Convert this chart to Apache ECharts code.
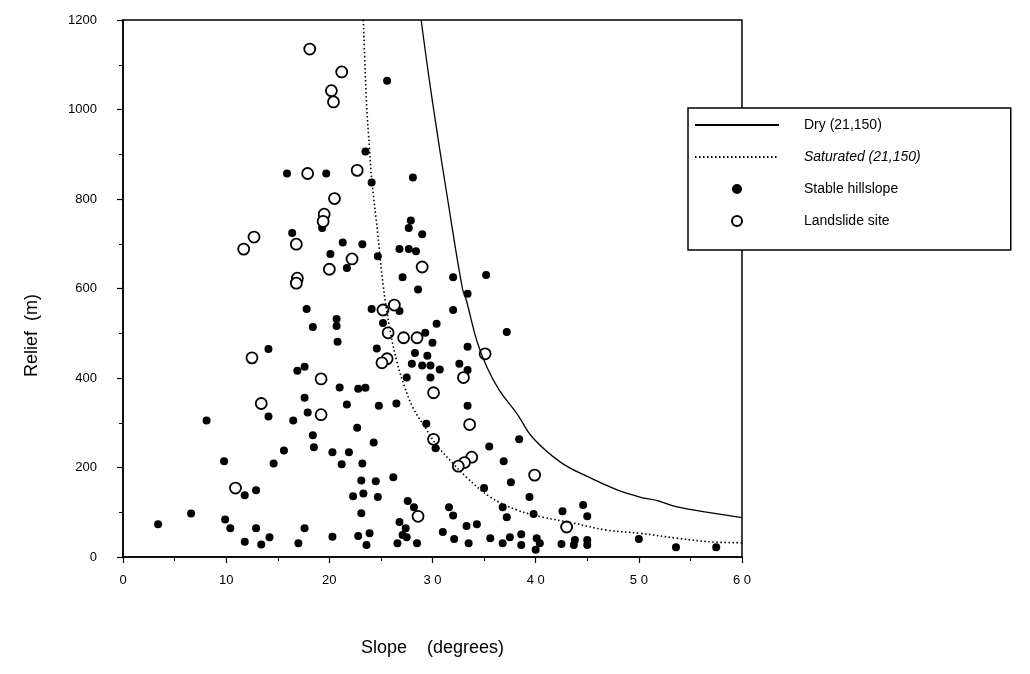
<!DOCTYPE html>
<html>
<head>
<meta charset="utf-8">
<title>Relief vs Slope</title>
<script src="https://cdn.jsdelivr.net/npm/echarts@6/dist/echarts.min.js"></script>
<style>
  html, body { margin: 0; padding: 0; background: #fff; }
  #chart { width: 1030px; height: 674px; }
</style>
</head>
<body>
<div id="chart"></div>
<script>
// x tick labels as printed (later ones are spaced out)
const xTickLabels = { 0: '0', 10: '10', 20: '20', 30: '3 0', 40: '4 0', 50: '5 0', 60: '6 0' };

// threshold curves [slope, relief]
const dryCurve = [
  [28.9, 1200], [30.0, 1017], [31.5, 795], [32.9, 600], [33.3, 572], [34.3, 483],
  [35.3, 423], [36.5, 372], [38.2, 320], [39.7, 267], [42.4, 212], [45.0, 180],
  [47.9, 150], [50.1, 134], [51.8, 126], [53.7, 112], [57.2, 98], [60, 88]
];
const saturatedCurve = [
  [23.3, 1200], [23.6, 1017], [23.9, 910], [24.1, 846], [24.7, 721], [25.2, 610],
  [25.9, 505], [26.6, 432], [27.3, 380], [28.1, 334], [29.3, 289], [30.4, 250],
  [32.0, 209], [33.3, 178], [35.6, 134], [38.2, 105], [40.7, 89], [43.6, 76],
  [46.9, 60], [50.1, 53], [53.7, 42], [57.6, 33], [60, 32]
];

// filled dots
const stablePoints = [
  [25.6, 1064], [23.5, 906], [15.9, 857], [19.7, 857], [24.1, 837], [28.1, 848],
  [19.3, 735], [16.4, 724], [21.3, 703], [23.2, 699], [26.8, 688], [27.7, 688],
  [28.4, 683], [20.1, 677], [24.7, 672], [21.7, 646], [27.9, 752], [27.7, 735],
  [29.0, 721], [27.1, 625], [32.0, 625], [35.2, 630], [28.6, 598], [33.4, 588],
  [17.8, 554], [24.1, 554], [26.8, 550], [32.0, 552], [25.2, 523], [30.4, 521],
  [20.7, 532], [20.7, 516], [18.4, 514], [20.8, 481], [24.6, 466], [29.3, 501],
  [30.0, 479], [28.3, 456], [29.5, 450], [28.0, 432], [29.0, 428], [29.8, 428],
  [30.7, 419], [29.8, 401], [27.5, 401], [37.2, 503], [33.4, 470], [32.6, 432],
  [33.4, 418], [33.4, 338], [14.1, 465], [16.9, 416], [17.6, 425], [8.1, 305],
  [14.1, 314], [16.5, 305], [22.8, 376], [23.5, 378], [21.0, 379], [17.6, 356],
  [21.7, 341], [24.8, 338], [26.5, 343], [17.9, 323], [22.7, 289], [29.4, 298],
  [18.4, 272], [24.3, 256], [18.5, 245], [20.3, 234], [21.9, 234], [15.6, 238],
  [30.3, 243], [9.8, 214], [14.6, 209], [21.2, 207], [23.2, 209], [26.2, 178],
  [23.1, 171], [24.5, 169], [11.8, 138], [12.9, 149], [22.3, 136], [23.3, 142],
  [24.7, 134], [23.1, 98], [27.6, 125], [28.2, 111], [31.6, 111], [32.0, 93],
  [26.8, 78], [27.4, 64], [27.1, 49], [26.6, 31], [27.5, 44], [28.5, 31],
  [31.0, 56], [32.1, 40], [17.6, 64], [17.0, 31], [20.3, 45], [22.8, 47],
  [23.9, 53], [23.6, 27], [3.4, 73], [6.6, 97], [9.9, 84], [10.4, 64],
  [12.9, 64], [11.8, 34], [13.4, 28], [14.2, 44], [38.4, 263], [35.5, 247],
  [36.9, 214], [35.0, 154], [37.6, 167], [39.4, 134], [36.8, 111], [37.2, 89],
  [39.8, 96], [42.6, 102], [44.6, 116], [45.0, 91], [33.3, 69], [34.3, 73],
  [33.5, 31], [35.6, 42], [36.8, 31], [37.5, 44], [38.6, 51], [38.6, 27],
  [40.1, 42], [40.4, 31], [40.0, 16], [42.5, 29], [43.7, 27], [43.8, 38],
  [45.0, 38], [45.0, 27], [50.0, 40], [53.6, 22], [57.5, 22]
];

// open circles
const landslidePoints = [
  [18.1, 1135], [21.2, 1084], [20.2, 1042], [20.4, 1017], [17.9, 857], [22.7, 864],
  [20.5, 801], [19.5, 766], [19.4, 750], [12.7, 715], [11.7, 688], [16.8, 699],
  [22.2, 666], [20.0, 643], [16.9, 623], [16.8, 612], [29.0, 648], [25.2, 552],
  [26.3, 563], [25.7, 501], [27.2, 490], [28.5, 490], [25.6, 443], [25.1, 434],
  [30.1, 367], [35.1, 454], [33.0, 401], [12.5, 445], [13.4, 343], [19.2, 398],
  [19.2, 318], [30.1, 263], [33.6, 296], [33.8, 223], [33.1, 211], [32.5, 203],
  [39.9, 183], [43.0, 67], [28.6, 91], [10.9, 154]
];

const font = '"Liberation Sans", Helvetica, Arial, sans-serif';

const chart = echarts.init(document.getElementById('chart'));

const option = {
  animation: false,
  backgroundColor: '#fff',
  textStyle: { fontFamily: font, color: '#000' },
  grid: {
    left: 123, right: 288, top: 20, bottom: 117,
    show: true, borderColor: '#000', borderWidth: 1.5
  },
  legend: {
    orient: 'vertical',
    left: 688, top: 108,
    padding: [10, 90, 22, 6],
    backgroundColor: '#fff',
    borderColor: '#000',
    borderWidth: 1.5,
    itemWidth: 84,
    itemHeight: 10,
    itemGap: 18,
    selectedMode: false,
    textStyle: { fontSize: 14, color: '#000', fontFamily: font, padding: [0, 0, 0, 20],
      rich: { it: { fontStyle: 'italic', fontSize: 14, fontFamily: font } } },
    formatter: name => name.startsWith('Saturated') ? '{it|' + name + '}' : name,
    data: [
      // line entries: hide the marker so only the line sample shows
      { name: 'Dry (21,150)', itemStyle: { opacity: 0 } },
      { name: 'Saturated (21,150)', itemStyle: { opacity: 0 } },
      'Stable hillslope',
      'Landslide site'
    ]
  },
  xAxis: {
    type: 'value', min: 0, max: 60, interval: 10,
    name: 'Slope    (degrees)', nameLocation: 'middle', nameGap: 82,
    nameTextStyle: { fontSize: 18, color: '#000' },
    axisLine: { lineStyle: { color: '#000', width: 1.5 } },
    axisTick: { inside: false, length: 6, lineStyle: { color: '#000', width: 1.2 } },
    minorTick: { show: true, splitNumber: 2, length: 4, lineStyle: { color: '#000' } },
    axisLabel: { fontSize: 13, color: '#000', margin: 17, formatter: v => xTickLabels[v] },
    splitLine: { show: false }
  },
  yAxis: {
    type: 'value', min: 0, max: 1200, interval: 200,
    name: 'Relief  (m)', nameLocation: 'middle', nameGap: 82,
    nameTextStyle: { fontSize: 18, color: '#000', padding: [0, 94, 0, 0] },
    axisLine: { lineStyle: { color: '#000', width: 1.5 } },
    axisTick: { inside: false, length: 6, lineStyle: { color: '#000', width: 1.2 } },
    minorTick: { show: true, splitNumber: 2, length: 4, lineStyle: { color: '#000' } },
    axisLabel: { fontSize: 13, color: '#000', margin: 26, formatter: v => String(v) },
    splitLine: { show: false }
  },
  series: [
    {
      name: 'Dry (21,150)', type: 'line', data: dryCurve,
      smooth: 0.4, showSymbol: false, symbol: 'none',
      lineStyle: { color: '#000', width: 1.3 },
      itemStyle: { color: '#000' }
    },
    {
      name: 'Saturated (21,150)', type: 'line', data: saturatedCurve,
      smooth: 0.4, showSymbol: false, symbol: 'none',
      lineStyle: { color: '#000', width: 1.6, type: [1.5, 2.5] },
      itemStyle: { color: '#000' }
    },
    {
      name: 'Stable hillslope', type: 'scatter', data: stablePoints,
      symbol: 'circle', symbolSize: 8,
      itemStyle: { color: '#000', opacity: 1 }
    },
    {
      name: 'Landslide site', type: 'scatter', data: landslidePoints,
      symbol: 'circle', symbolSize: 11,
      itemStyle: { color: '#fff', borderColor: '#000', borderWidth: 1.8, opacity: 1 }
    }
  ]
};

chart.setOption(option);
</script>
</body>
</html>
